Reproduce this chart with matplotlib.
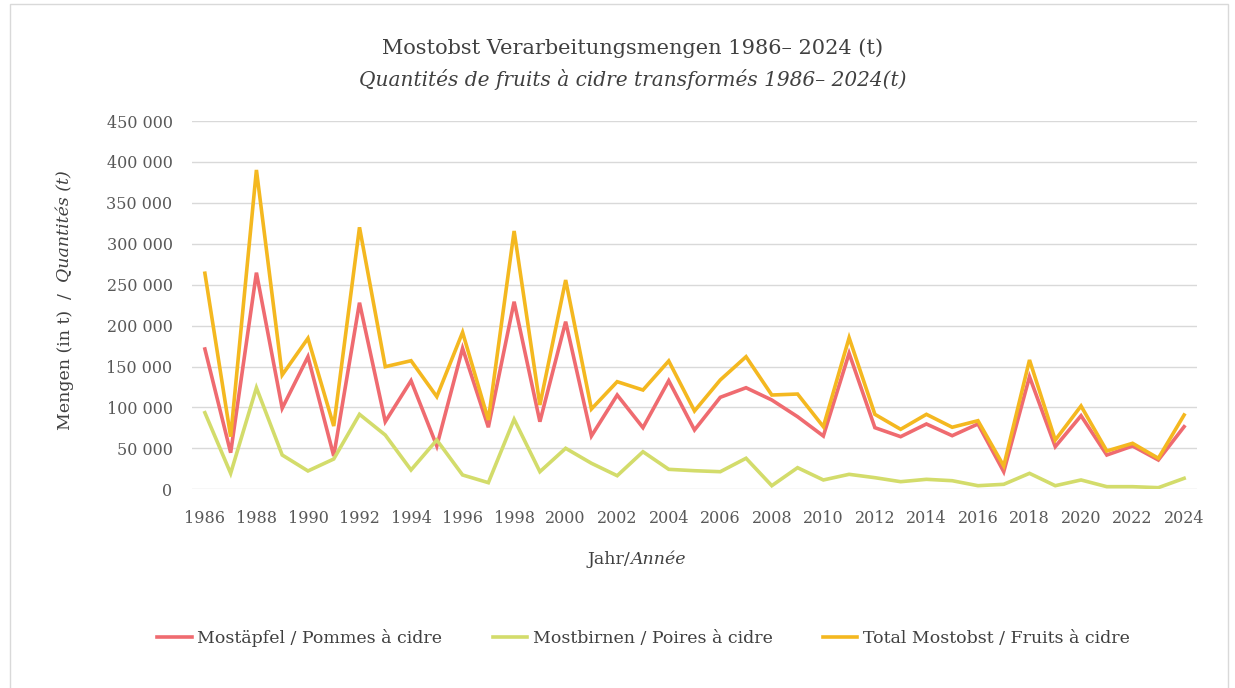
import numpy as np
import matplotlib.pyplot as plt
from matplotlib.patches import Rectangle
from matplotlib.ticker import FuncFormatter

years = list(range(1986, 2025))

# Mostäpfel / Pommes à cidre
pommes = [171400, 44700, 264700, 99000, 162000, 40700, 228000, 82600, 132700, 52900,
          172300, 75800, 229200, 82600, 204800, 65100, 115200, 75300, 132700, 72500,
          112400, 124100, 109100, 88700, 65100, 166200, 75300, 64300, 79800, 65500,
          79800, 21500, 137600, 52100, 89900, 41900, 52900, 35800, 76500]

# Mostbirnen / Poires à cidre
poires = [93600, 19500, 124100, 41900, 22400, 37000, 91600, 66300, 23600, 60200,
          17500, 8100, 85500, 21500, 50100, 31800, 16600, 45900, 24400, 22700,
          21500, 37900, 4400, 26400, 11400, 18300, 14200, 9300, 12200, 10500,
          4400, 6100, 19500, 4400, 11400, 3200, 3200, 2000, 13400]

# Total Mostobst / Fruits à cidre
total = [264000, 64300, 390200, 139700, 184500, 77300, 320100, 149800, 157100, 113200,
         191800, 84700, 315600, 103000, 255700, 98100, 131500, 121300, 156800, 95700,
         133600, 162000, 115200, 116400, 76500, 185200, 91600, 73300, 91600, 75800,
         83800, 28500, 158000, 60200, 101800, 46800, 56200, 37900, 90800]

labels = ["Mostäpfel / Pommes à cidre", "Mostbirnen / Poires à cidre",
          "Total Mostobst / Fruits à cidre"]
colors = ["#ef6b70", "#d3dc6b", "#f4b820"]

plt.rcParams['font.family'] = ['DejaVu Serif']
txt = "#404040"

fig = plt.figure(figsize=(12.35, 6.88), dpi=100)
ax = fig.add_axes([192/1235, 1 - 489.3/688, 1005/1235, (489.3 - 121)/688])

for series, lab, col in zip([pommes, poires, total], labels, colors):
    ax.plot(years, series, color=col, lw=2.6, label=lab, solid_joinstyle='miter')

ax.set_xlim(1985.5, 2024.5)
ax.set_ylim(0, 450000)
ax.set_xticks(years[::2])
ax.set_yticks(np.arange(0, 450001, 50000))
ax.yaxis.set_major_formatter(FuncFormatter(lambda v, p: f"{int(v):,}".replace(",", " ")))
ax.tick_params(length=0, labelsize=11.5, labelcolor="#595959")
ax.tick_params(axis='y', pad=14)
ax.tick_params(axis='x', pad=15)
ax.grid(axis='y', color="#d9d9d9", lw=1)
ax.set_axisbelow(True)
for s in ax.spines.values():
    s.set_visible(False)

fig.text(0.512, 1 - 48/688, "Mostobst Verarbeitungsmengen 1986– 2024 (t)",
         ha='center', va='center', fontsize=15, color=txt)
fig.text(0.512, 1 - 79/688, "Quantités de fruits à cidre transformés 1986– 2024(t)",
         ha='center', va='center', fontsize=14.5, color=txt, style='italic')

fig.text(65/1235, 1 - 370/688, "Mengen (in t)", rotation=90, ha='center', va='center',
         fontsize=12.5, color=txt)
fig.text(65/1235, 1 - 296/688, "/", rotation=90, ha='center', va='center',
         fontsize=12.5, color=txt)
fig.text(65/1235, 1 - 226/688, "Quantités (t)", rotation=90, ha='center', va='center',
         fontsize=12.5, color=txt, style='italic')

fig.text(630/1235, 1 - 560/688, "Jahr/", ha='right', va='center', fontsize=12.5, color=txt)
fig.text(630/1235, 1 - 560/688, "Année", ha='left', va='center', fontsize=12.5,
         color=txt, style='italic')

leg = fig.legend(loc='center', bbox_to_anchor=(0.521, 1 - 638/688), ncol=3, frameon=False,
                 fontsize=12.5, handlelength=2.0, handletextpad=0.3, columnspacing=2.9)
for t in leg.get_texts():
    t.set_color(txt)

fig.patches.append(Rectangle((10/1235, -0.05), 1218/1235, 1.05 - 4/688, transform=fig.transFigure,
                             fill=False, edgecolor="#d9d9d9", lw=1))

fig.savefig("out.png", dpi=100)
